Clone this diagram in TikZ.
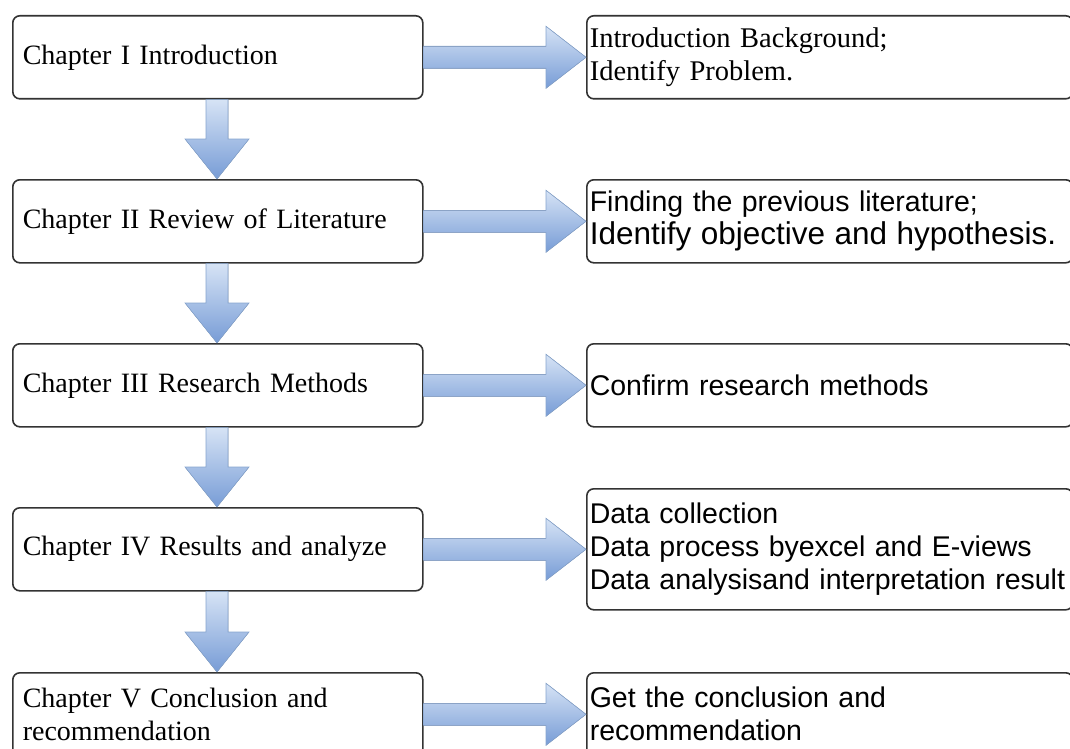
\documentclass[tikz,border=0pt]{standalone}
\usepackage{fontspec}
\setmainfont{Liberation Serif}[WordSpace=0.7]
\newfontfamily\arialfont{Liberation Sans}
\usetikzlibrary{calc}
\definecolor{arrowlight}{HTML}{D6E3F5}
\definecolor{arrowdark}{HTML}{779CD6}
\definecolor{arrowedge}{HTML}{86A4CE}
\definecolor{boxedge}{HTML}{333333}
\tikzset{
  chapbox/.style={draw=boxedge, line width=1.6pt, rounded corners=7pt, fill=white,
    minimum width=409pt, minimum height=83pt, text width=390pt, align=left,
    inner xsep=10pt, anchor=north west, font=\fontsize{28}{33}\selectfont},
  taskbox/.style={draw=boxedge, line width=1.6pt, rounded corners=7pt, fill=white,
    minimum width=486pt, minimum height=83pt, text width=480pt, align=left,
    inner xsep=3pt, anchor=north west, font=\fontsize{28.5}{33}\selectfont},
  sanstask/.style={taskbox, font=\arialfont\fontsize{28.5}{33}\selectfont},
  blockarrow/.style={top color=arrowlight, bottom color=arrowdark, draw=arrowedge, line width=0.6pt}
}
\begin{document}
\begin{tikzpicture}[x=1pt,y=-1pt]
\clip (0,0) rectangle (1070,749);
\useasboundingbox (0,0) rectangle (1070,749);
% left chapter boxes
\node[chapbox] (c1) at (12,15) {Chapter I Introduction};
\node[chapbox] (c2) at (12,179) {Chapter II Review of Literature};
\node[chapbox] (c3) at (12,343) {Chapter III Research Methods};
\node[chapbox] (c4) at (12,507) {Chapter IV Results and analyze};
\node[chapbox] (c5) at (12,672) {Chapter V Conclusion and\\recommendation};
% right task boxes
\node[taskbox] (t1) at (586,15) {Introduction Background;\\Identify Problem.};
\node[sanstask] (t2) at (586,179) {Finding the previous literature;\\{\fontsize{31.5}{33}\selectfont Identify objective and hypothesis.}};
\node[sanstask] (t3) at (586,343) {Confirm research methods};
\node[sanstask, minimum height=121pt] (t4) at (586,488) {Data collection\\Data process byexcel and E-views\\Data analysisand interpretation result};
\node[sanstask] (t5) at (586,672) {Get the conclusion and\\recommendation};
% horizontal block arrows
\foreach \a/\b in {c1/t1,c2/t2,c3/t3,c4/t4,c5/t5}{
  \filldraw[blockarrow] let \p1=(\a.east), \p2=(\b.west) in
    (\x1,\y1+11pt) -- (\x2-40pt,\y1+11pt) -- (\x2-40pt,\y1+31pt) -- (\x2,\y1)
    -- (\x2-40pt,\y1-31pt) -- (\x2-40pt,\y1-11pt) -- (\x1,\y1-11pt) -- cycle;
}
% vertical block arrows
\foreach \a/\b in {c1/c2,c2/c3,c3/c4,c4/c5}{
  \filldraw[blockarrow] let \p1=(\a.south west), \p2=(\b.north west) in
    (\x1+194pt,\y1) -- (\x1+216pt,\y1) -- (\x1+216pt,\y2+40pt) -- (\x1+237pt,\y2+40pt)
    -- (\x1+205pt,\y2) -- (\x1+173pt,\y2+40pt) -- (\x1+194pt,\y2+40pt) -- cycle;
}
\end{tikzpicture}
\end{document}
